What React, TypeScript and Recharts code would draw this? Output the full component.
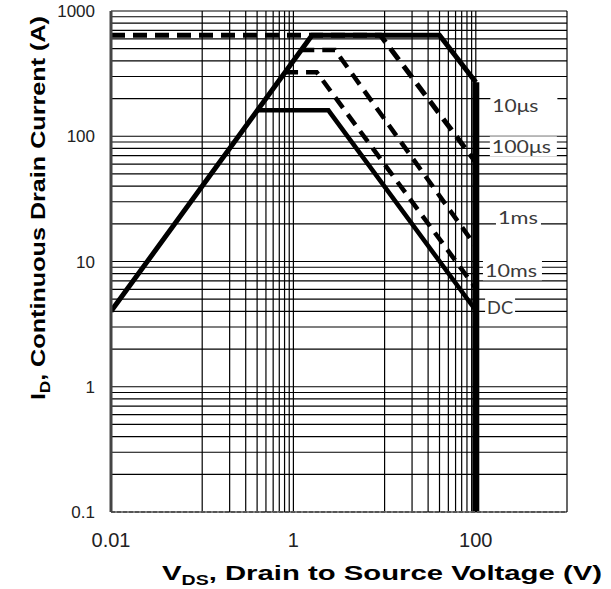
import { ComposedChart, Line, XAxis, YAxis, CartesianGrid, ReferenceDot, Label } from 'recharts'

// grid positions (log decades, partial minors as in the original sheet)
const xTicks = [0.01, 0.1, 0.2, 0.3, 0.4, 0.5, 0.6, 0.7, 0.8, 0.9, 1, 10, 20, 30, 40, 50, 60, 70, 80, 90, 100, 1000]
const yTicks = [
  0.1, 0.2, 0.3, 0.4, 0.5, 0.6, 0.7, 0.8, 0.9,
  1, 2, 3, 4, 5, 6, 7, 8, 9,
  10, 20, 30, 40, 50, 60, 70, 80, 90,
  100, 200, 300, 400, 500, 600, 700, 800, 900,
  1000,
]
const xLabels = [0.01, 1, 100]
const yLabels = [0.1, 1, 10, 100, 1000]

// V_DS (V) / I_D (A) corner points
const envV = [0.01, 1.6, 40, 100]
const envI = [4, 640, 640, 270]
const wallV = [100, 100]
const wallI = [270, 0.1]
const us100V = [0.01, 9, 100]
const us100I = [640, 640, 62]
const ms1V = [1.22, 2.86, 100]
const ms1I = [488, 488, 13.2]
const ms10V = [0.81, 1.8, 100]
const ms10I = [325, 325, 6.1]
const dcV = [0.4, 2.42, 100]
const dcI = [161, 161, 4.06]

// curve tags on the right
const tagNames = ['10μs', '100μs', '1ms', '10ms', 'DC']
const tagV = [152, 150, 175, 126, 133]
const tagI = [177, 83, 22.5, 8.5, 4.3]
const tagBox: Record<string, [number, number]> = {
  '10μs': [67, 46],
  '100μs': [67, 59],
  '1ms': [45, 40],
  '10ms': [59, 52],
  'DC': [30, 26],
}

const pts = (vs: number[], is: number[]) => vs.map((v, k) => ({ v, i: is[k] }))

const font = 'Liberation Sans, Arial, sans-serif'

function Tag({ cx, cy, name }: any) {
  const [w, tl] = tagBox[name]
  return (
    <g>
      <rect x={cx - 2} y={cy - 10} width={w} height={20} fill="#fff" />
      <text x={cx} y={cy} dy="0.36em" fontSize={18} fill="#3a3a3a" fontFamily="Lato, sans-serif"
        textLength={tl} lengthAdjust="spacingAndGlyphs">{name}</text>
    </g>
  )
}

function XTitle() {
  return (
    <text x={162} y={580} fontSize={21} fontWeight="bold" fill="#000" fontFamily={font}
      textLength={440} lengthAdjust="spacingAndGlyphs">
      <tspan>V</tspan>
      <tspan dy={5} fontSize={14}>DS</tspan>
      <tspan dy={-5}>, Drain to Source Voltage (V)</tspan>
    </text>
  )
}

function YTitle() {
  return (
    <text transform="translate(45,208) rotate(-90)" x={0} y={0} textAnchor="middle" fontSize={21} fontWeight="bold"
      fill="#000" fontFamily={font} textLength={384} lengthAdjust="spacingAndGlyphs">
      <tspan>I</tspan>
      <tspan dy={5} fontSize={14}>D</tspan>
      <tspan dy={-5}>, Continuous Drain Current (A)</tspan>
    </text>
  )
}

export default function App() {
  return (
    <div>
      <style>{'body{margin:0;background:#fff}'}</style>
      <ComposedChart width={611} height={589} margin={{ top: 11, right: 44, bottom: 37, left: 0 }}>
        <CartesianGrid stroke="#000" strokeWidth={1.2} />
        <XAxis dataKey="v" type="number" scale="log" domain={[0.01, 1000]} allowDataOverflow
          ticks={xTicks} interval={0} height={40} tickLine={false} tickSize={0} tickMargin={21}
          tickFormatter={v => (xLabels.includes(v) ? String(v) : '')}
          tick={{ fontSize: 20, fill: '#222', fontFamily: font }}
          axisLine={{ stroke: '#555', strokeWidth: 2, strokeDasharray: '4 2' }}>
          <Label content={XTitle} />
        </XAxis>
        <XAxis xAxisId="top" orientation="top" type="number" scale="log" domain={[0.01, 1000]} height={0}
          tick={false} tickLine={false} axisLine={{ stroke: '#aaa', strokeWidth: 2 }} />
        <YAxis type="number" scale="log" domain={[0.1, 1000]} allowDataOverflow ticks={yTicks} interval={0}
          width={111} tickLine={false} tickSize={0} tickMargin={16}
          tickFormatter={v => (yLabels.includes(v) ? String(v) : '')}
          tick={{ fontSize: 17, fill: '#222', fontFamily: font }}
          axisLine={{ stroke: '#444', strokeWidth: 3 }}>
          <Label content={YTitle} />
        </YAxis>
        <YAxis yAxisId="right" orientation="right" type="number" width={0} tick={false} tickLine={false}
          axisLine={{ stroke: '#999', strokeWidth: 3 }} />

        <Line data={pts(us100V, us100I)} dataKey="i" stroke="#000" strokeWidth={5} strokeDasharray="14 8"
          dot={false} isAnimationActive={false} />
        <Line data={pts(ms1V, ms1I)} dataKey="i" stroke="#000" strokeWidth={4.5} strokeDasharray="13 8"
          dot={false} isAnimationActive={false} />
        <Line data={pts(ms10V, ms10I)} dataKey="i" stroke="#000" strokeWidth={4.5} strokeDasharray="13 8"
          dot={false} isAnimationActive={false} />
        <Line data={pts(dcV, dcI)} dataKey="i" stroke="#000" strokeWidth={4.5} dot={false} isAnimationActive={false} />
        <Line data={pts(envV, envI)} dataKey="i" stroke="#000" strokeWidth={5} dot={false} isAnimationActive={false} />
        <Line data={pts(wallV, wallI)} dataKey="i" stroke="#000" strokeWidth={7} dot={false} isAnimationActive={false} />

        {tagNames.map((name, k) => (
          <ReferenceDot key={name} x={tagV[k]} y={tagI[k]} r={0} ifOverflow="visible"
            shape={(p: any) => <Tag cx={p.cx} cy={p.cy} name={name} />} />
        ))}
      </ComposedChart>
    </div>
  )
}
